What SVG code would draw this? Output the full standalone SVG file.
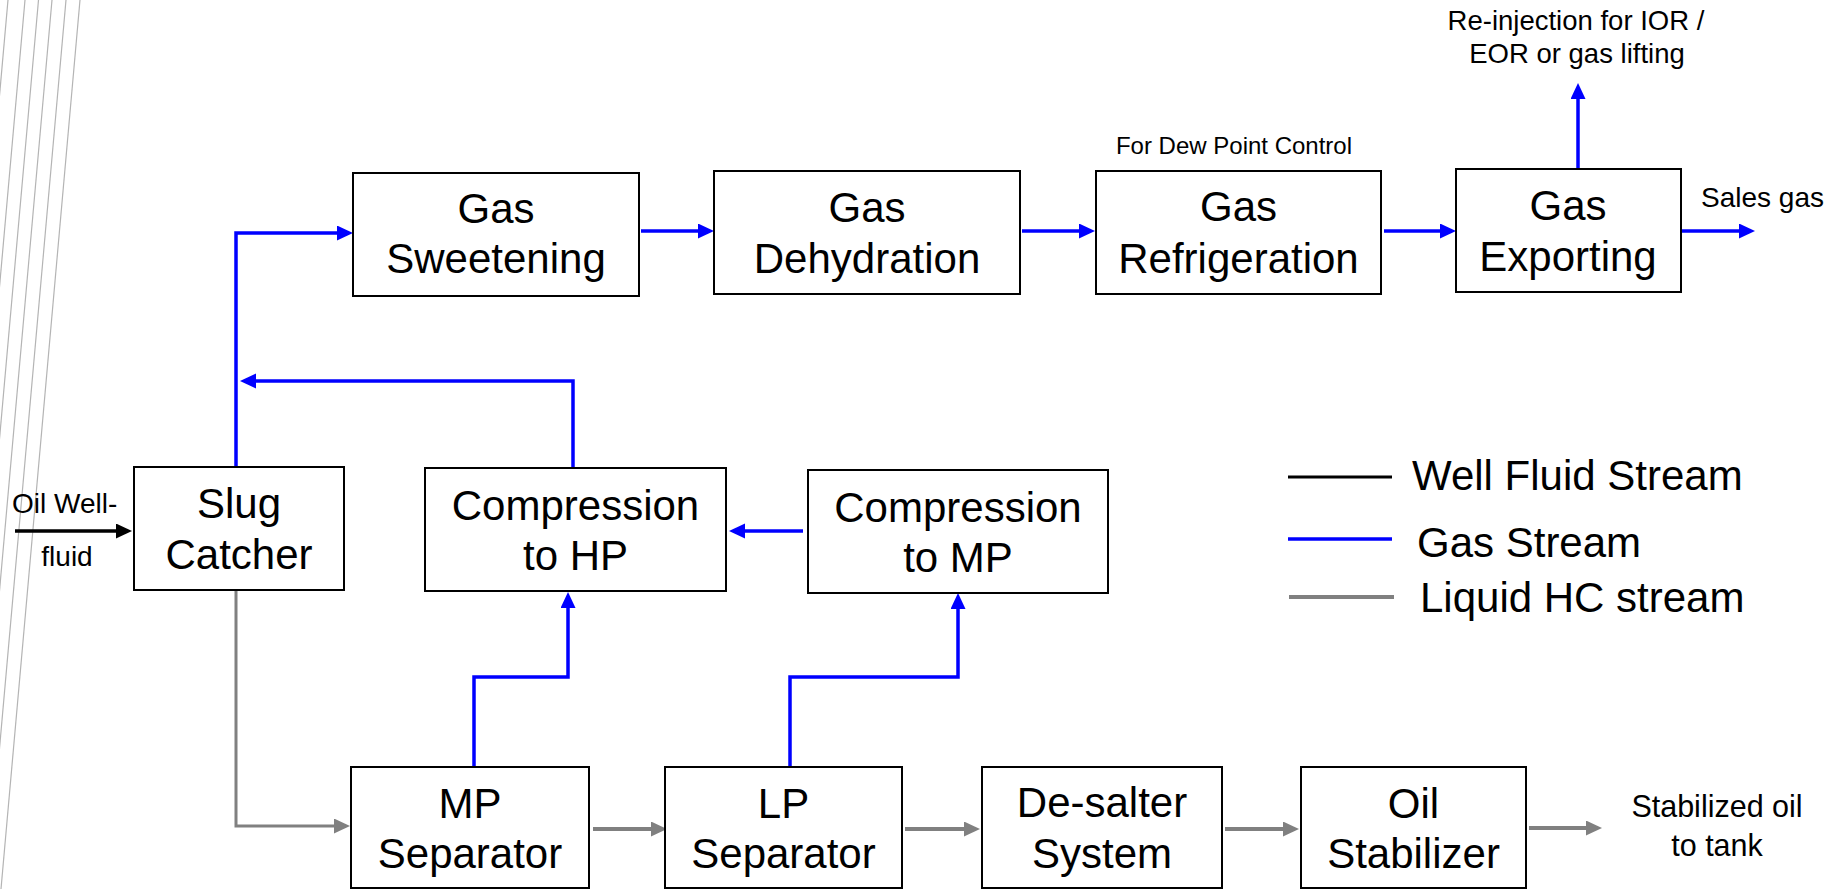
<svg xmlns="http://www.w3.org/2000/svg" width="1837" height="889" viewBox="0 0 1837 889">
  <defs>
    <style>
      .box { fill: #ffffff; stroke: #000000; stroke-width: 2; }
      .lbl { font-family: "Liberation Sans", Arial, sans-serif; font-size: 42px; fill: #000000; text-anchor: middle; }
      .key { font-family: "Liberation Sans", Arial, sans-serif; font-size: 42px; fill: #000000; text-anchor: start; }
      .note { font-family: "Liberation Sans", Arial, sans-serif; font-size: 28px; fill: #000000; }
      .gas { fill: none; stroke: #0000ff; stroke-width: 3.5; }
      .liq { fill: none; stroke: #808080; stroke-width: 4; }
      .well { fill: none; stroke: #000000; stroke-width: 3.5; }
      .deco { stroke: #b4b4b4; stroke-width: 1.2; }
    </style>
    <!-- arrowheads: tip sits 8px past the end of the line -->
    <marker id="arrow-gas" markerUnits="userSpaceOnUse" markerWidth="17" markerHeight="16" refX="8" refY="7.5" orient="auto">
      <path d="M0,0 L16,7.5 L0,15 z" fill="#0000ff"/>
    </marker>
    <marker id="arrow-liq" markerUnits="userSpaceOnUse" markerWidth="17" markerHeight="16" refX="8" refY="7.5" orient="auto">
      <path d="M0,0 L16,7.5 L0,15 z" fill="#808080"/>
    </marker>
    <marker id="arrow-well" markerUnits="userSpaceOnUse" markerWidth="17" markerHeight="16" refX="8" refY="7.5" orient="auto">
      <path d="M0,0 L16,7.5 L0,15 z" fill="#000000"/>
    </marker>
  </defs>

  <rect width="1837" height="889" fill="#ffffff"/>

  <!-- decorative slanted strokes at the left edge -->
  <g id="edge-lines" class="deco">
    <line x1="8" y1="0" x2="-71" y2="889"/>
    <line x1="25" y1="0" x2="-54" y2="889"/>
    <line x1="38.5" y1="0" x2="-40.5" y2="889"/>
    <line x1="52" y1="0" x2="-27" y2="889"/>
    <line x1="66" y1="0" x2="-13" y2="889"/>
    <line x1="80" y1="0" x2="1" y2="889"/>
  </g>

  <!-- streams -->
  <g id="connectors">
    <!-- well fluid inlet -->
    <path class="well" d="M15,531 H124" marker-end="url(#arrow-well)"/>

    <!-- gas streams -->
    <path class="gas" d="M236,467 V233 H345" marker-end="url(#arrow-gas)"/>
    <path class="gas" d="M641,231 H706" marker-end="url(#arrow-gas)"/>
    <path class="gas" d="M1022,231 H1087" marker-end="url(#arrow-gas)"/>
    <path class="gas" d="M1384,231 H1448" marker-end="url(#arrow-gas)"/>
    <path class="gas" d="M1681,231 H1747" marker-end="url(#arrow-gas)"/>
    <path class="gas" d="M1578,169 V91" marker-end="url(#arrow-gas)"/>
    <path class="gas" d="M573,468 V381 H248" marker-end="url(#arrow-gas)"/>
    <path class="gas" d="M803,531 H737" marker-end="url(#arrow-gas)"/>
    <path class="gas" d="M474,767 V677 H568 V600" marker-end="url(#arrow-gas)"/>
    <path class="gas" d="M790,767 V677 H958 V601" marker-end="url(#arrow-gas)"/>

    <!-- liquid hydrocarbon streams -->
    <path class="liq" style="stroke-width:3" d="M236,590 V826 H342" marker-end="url(#arrow-liq)"/>
    <path class="liq" d="M593,829 H659" marker-end="url(#arrow-liq)"/>
    <path class="liq" d="M905,829 H972" marker-end="url(#arrow-liq)"/>
    <path class="liq" d="M1225,829 H1291" marker-end="url(#arrow-liq)"/>
    <path class="liq" d="M1529,828 H1594" marker-end="url(#arrow-liq)"/>
  </g>

  <!-- process units -->
  <g id="slug-catcher">
    <rect class="box" x="134" y="467" width="210" height="123"/>
    <text class="lbl" x="239" y="518">Slug</text>
    <text class="lbl" x="239" y="569">Catcher</text>
  </g>
  <g id="gas-sweetening">
    <rect class="box" x="353" y="173" width="286" height="123"/>
    <text class="lbl" x="496" y="223">Gas</text>
    <text class="lbl" x="496" y="273">Sweetening</text>
  </g>
  <g id="gas-dehydration">
    <rect class="box" x="714" y="171" width="306" height="123"/>
    <text class="lbl" x="867" y="222">Gas</text>
    <text class="lbl" x="867" y="273">Dehydration</text>
  </g>
  <g id="gas-refrigeration">
    <rect class="box" x="1096" y="171" width="285" height="123"/>
    <text class="lbl" x="1238.5" y="221">Gas</text>
    <text class="lbl" x="1238.5" y="273">Refrigeration</text>
  </g>
  <g id="gas-exporting">
    <rect class="box" x="1456" y="169" width="225" height="123"/>
    <text class="lbl" x="1568" y="220">Gas</text>
    <text class="lbl" x="1568" y="271">Exporting</text>
  </g>
  <g id="compression-hp">
    <rect class="box" x="425" y="468" width="301" height="123"/>
    <text class="lbl" x="575.5" y="520">Compression</text>
    <text class="lbl" x="575.5" y="570">to HP</text>
  </g>
  <g id="compression-mp">
    <rect class="box" x="808" y="470" width="300" height="123"/>
    <text class="lbl" x="958" y="522">Compression</text>
    <text class="lbl" x="958" y="572">to MP</text>
  </g>
  <g id="mp-separator">
    <rect class="box" x="351" y="767" width="238" height="121"/>
    <text class="lbl" x="470" y="818">MP</text>
    <text class="lbl" x="470" y="868">Separator</text>
  </g>
  <g id="lp-separator">
    <rect class="box" x="665" y="767" width="237" height="121"/>
    <text class="lbl" x="783.5" y="818">LP</text>
    <text class="lbl" x="783.5" y="868">Separator</text>
  </g>
  <g id="desalter">
    <rect class="box" x="982" y="767" width="240" height="121"/>
    <text class="lbl" x="1102" y="817">De-salter</text>
    <text class="lbl" x="1102" y="868">System</text>
  </g>
  <g id="oil-stabilizer">
    <rect class="box" x="1301" y="767" width="225" height="121"/>
    <text class="lbl" x="1413.5" y="818">Oil</text>
    <text class="lbl" x="1413.5" y="868">Stabilizer</text>
  </g>

  <!-- stream annotations -->
  <g id="annotations">
    <text class="note" x="12" y="513">Oil Well-</text>
    <text class="note" x="67" y="566" text-anchor="middle">fluid</text>
    <text class="note" x="1234" y="154" text-anchor="middle" style="font-size:24px">For Dew Point Control</text>
    <text class="note" x="1576" y="30" text-anchor="middle" style="font-size:27.5px">Re-injection for IOR /</text>
    <text class="note" x="1577" y="63" text-anchor="middle" style="font-size:27.5px">EOR or gas lifting</text>
    <text class="note" x="1701" y="207">Sales gas</text>
    <text class="note" x="1717" y="817" text-anchor="middle" style="font-size:30.5px">Stabilized oil</text>
    <text class="note" x="1717" y="856" text-anchor="middle" style="font-size:30.5px">to tank</text>
  </g>

  <!-- legend -->
  <g id="legend">
    <line x1="1288" y1="477" x2="1392" y2="477" stroke="#000000" stroke-width="3"/>
    <line x1="1288" y1="539" x2="1392" y2="539" stroke="#0000ff" stroke-width="3.5"/>
    <line x1="1289" y1="597" x2="1394" y2="597" stroke="#808080" stroke-width="4"/>
    <text class="key" x="1412" y="490">Well Fluid Stream</text>
    <text class="key" x="1417" y="557">Gas Stream</text>
    <text class="key" x="1420" y="612">Liquid HC stream</text>
  </g>
</svg>
